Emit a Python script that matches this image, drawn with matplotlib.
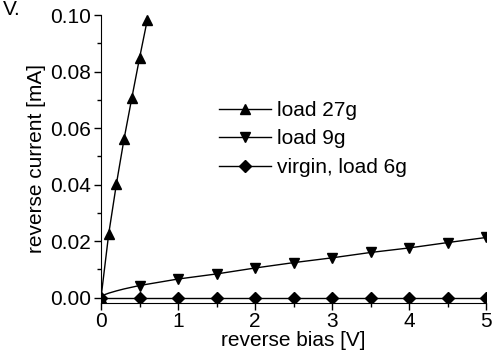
import matplotlib
matplotlib.use("Agg")
import matplotlib.pyplot as plt
from matplotlib.ticker import MultipleLocator

plt.rcParams["font.family"] = ["Liberation Sans", "DejaVu Sans"]

# load 27g
bias_27 = [0, 0.1, 0.2, 0.3, 0.4, 0.5, 0.6]
cur_27 = [0, 0.0226, 0.0403, 0.0563, 0.0707, 0.0848, 0.0982]

# load 9g (dense near origin, markers every 0.5 V)
bias_9 = [0, 0.05, 0.1, 0.2, 0.3, 0.4, 0.5, 1.0, 1.5, 2.0, 2.5, 3.0, 3.5, 4.0, 4.5, 5.0]
cur_9 = [0, 0.0011, 0.0016, 0.0024, 0.0031, 0.0037, 0.0043, 0.0066, 0.0084, 0.0105,
         0.0124, 0.0141, 0.0160, 0.0176, 0.0195, 0.0213]
marks_9 = [6, 7, 8, 9, 10, 11, 12, 13, 14, 15]

# virgin, load 6g
bias_v = [0, 0.5, 1.0, 1.5, 2.0, 2.5, 3.0, 3.5, 4.0, 4.5, 5.0]
cur_v = [0, 0, 0, 0, 0, 0, 0, 0, 0, 0, 0]

fs = 15

fig = plt.figure(figsize=(4.94, 3.6), dpi=100)
ax = fig.add_axes([0.2045, 0.159, 0.7795, 0.799])

ax.plot(bias_27, cur_27, color="black", lw=1.0, marker="^", ms=7.5, label="load 27g")
ax.plot(bias_9, cur_9, color="black", lw=1.0, marker="v", ms=7.5, markevery=marks_9, label="load 9g")
ax.plot(bias_v, cur_v, color="black", lw=1.0, marker="D", ms=6, label="virgin, load 6g")

ax.set_xlim(0, 5)
ax.set_ylim(-0.0018, 0.10)
ax.spines["top"].set_visible(False)
ax.spines["right"].set_visible(False)
ax.spines["left"].set_bounds(-0.0018, 0.10)

ax.xaxis.set_major_locator(MultipleLocator(1))
ax.xaxis.set_minor_locator(MultipleLocator(0.5))
ax.yaxis.set_major_locator(MultipleLocator(0.02))
ax.yaxis.set_minor_locator(MultipleLocator(0.01))
ax.yaxis.set_major_formatter(matplotlib.ticker.FormatStrFormatter("%.2f"))
ax.tick_params(which="major", direction="out", length=5, width=1, labelsize=fs, pad=2)
ax.tick_params(which="minor", direction="out", length=3, width=1)

ax.set_xlabel("reverse bias [V]", fontsize=fs, labelpad=0)
ax.set_ylabel("reverse current [mA]", fontsize=fs, labelpad=3)

ax.legend(loc="upper left", bbox_to_anchor=(0.285, 0.73), frameon=False, fontsize=fs,
          handlelength=2.5, handletextpad=0.3, labelspacing=0.45, borderaxespad=0)

fig.text(0.006, 1.0, "V.", fontsize=fs, ha="left", va="top")

fig.savefig("out.png", dpi=100)
